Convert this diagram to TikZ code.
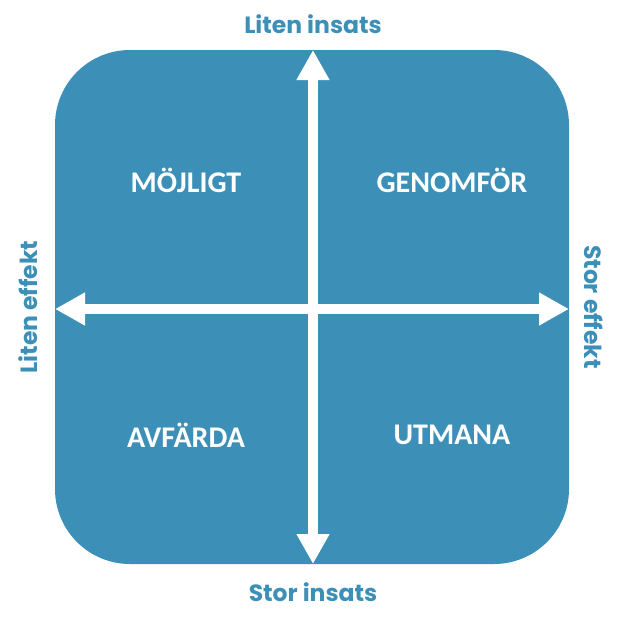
\documentclass[tikz,border=0pt]{standalone}
\usepackage{fontspec}
\setmainfont{Carlito}
\newfontfamily\edgefont{Poppins}
\usetikzlibrary{arrows.meta}
\definecolor{matrixblue}{RGB}{60,144,184}
\begin{document}
\begin{tikzpicture}[x=1pt,y=-1pt,
    quad/.style={text=white,font=\fontsize{30}{30}\selectfont\bfseries},
    edge/.style={text=matrixblue,font=\edgefont\fontsize{23.5}{23.5}\selectfont\bfseries},
    axis/.style={white,line width=10pt,{Triangle[width=31pt,length=30pt]}-{Triangle[width=31pt,length=30pt]}}]
    \useasboundingbox (0,0) rectangle (621,616);
    \fill [matrixblue,rounded corners=75pt] (55,50) rectangle (569,564);
    % axes
    \coordinate (top) at (313,50);
    \coordinate (bottom) at (313,564);
    \coordinate (left) at (55,309);
    \coordinate (right) at (569,309);
    \draw [axis] (bottom) -- (top);
    \draw [axis] (left) -- (right);
    % quadrants
    \node [quad] (mojligt) at (186,180) {MÖJLIGT};
    \node [quad] (genomfor) at (452,180) {GENOMFÖR};
    \node [quad] (avfarda) at (186,435) {AVFÄRDA};
    \node [quad] (utmana) at (452,435) {UTMANA};
    % lecter
    \node [edge] (liteninsats) at (313,24) {Liten insats};
    \node [edge] (storinsats) at (313,592) {Stor insats};
    \node [edge,rotate=90] (liteneffekt) at (28,307) {Liten effekt};
    \node [edge,rotate=-90] (storeffekt) at (594,307) {Stor effekt};
\end{tikzpicture}
\end{document}
